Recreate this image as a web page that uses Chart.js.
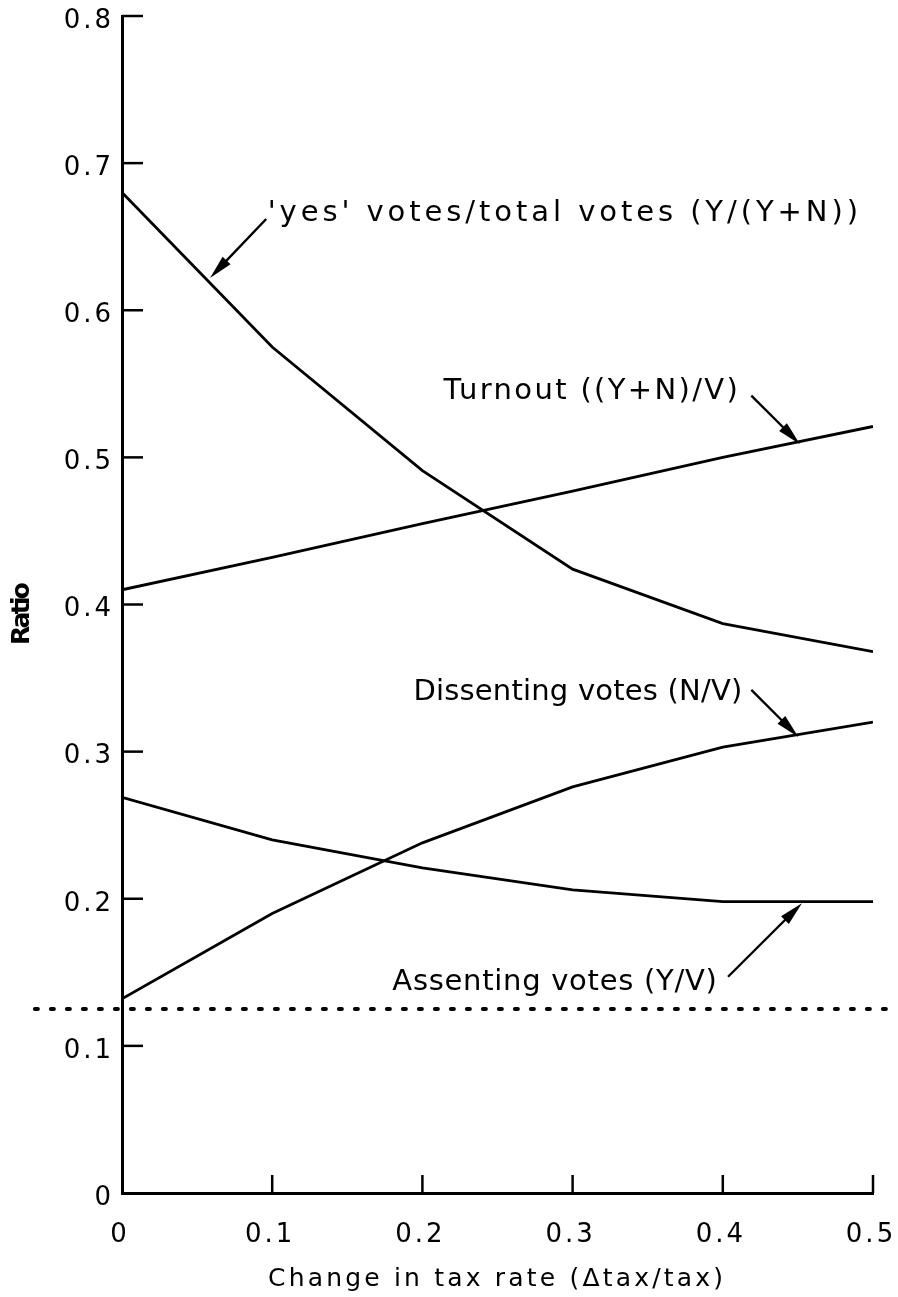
<!DOCTYPE html>
<html>
<head>
<meta charset="utf-8">
<script src="https://cdn.jsdelivr.net/npm/chart.js@4.4.1/dist/chart.umd.min.js"></script>
<style>
    html, body { margin: 0; padding: 0; background: #ffffff; }
</style>
</head>
<body>
<canvas id="ratioChart" width="898" height="1297"></canvas>
<script>
// ------------------------------------------------ DATA ------------------------------------------------
const taxChange  = [0, 0.1, 0.2, 0.3, 0.4, 0.5];
const yesShare   = [0.680, 0.575, 0.491, 0.424, 0.387, 0.368];   // Y/(Y+N)
const turnout    = [0.410, 0.432, 0.455, 0.477, 0.500, 0.521];   // (Y+N)/V
const dissenting = [0.132, 0.190, 0.238, 0.276, 0.303, 0.320];   // N/V
const assenting  = [0.269, 0.240, 0.221, 0.206, 0.198, 0.198];   // Y/V

// dotted rule that runs across the printed page
const ruleX = [-0.058, 0.517];
const ruleY = [0.125, 0.125];

const xTickValues = [0, 0.1, 0.2, 0.3, 0.4, 0.5];
const yTickValues = [0, 0.1, 0.2, 0.3, 0.4, 0.5, 0.6, 0.7, 0.8];

const xTitle = 'Change in tax rate (\u0394tax/tax)';
const yTitle = 'Ratio';

// curve labels, placed in data units
const labels = [
    { text: "'yes' votes/total votes (Y/(Y+N))", x0: 0.097, x1: 0.490, y: 0.661, tail: [0.096, 0.662], tip: [0.0586, 0.622] },
    { text: 'Turnout ((Y+N)/V)',                 x0: 0.214, x1: 0.410, y: 0.540, tail: [0.419, 0.542], tip: [0.4514, 0.509] },
    { text: 'Dissenting votes (N/V)',            x0: 0.194, x1: 0.413, y: 0.335, tail: [0.419, 0.342], tip: [0.4503, 0.310] },
    { text: 'Assenting votes (Y/V)',             x0: 0.180, x1: 0.396, y: 0.138, tail: [0.4035, 0.147], tip: [0.4527, 0.197] }
];

const FONT = '"DejaVu Sans", sans-serif';

function series(xs, ys) {
    return xs.map((x, i) => ({ x: x, y: ys[i] }));
}

function fitText(ctx, text, x, y, width) {
    ctx.letterSpacing = '0px';
    const w = ctx.measureText(text).width;
    ctx.letterSpacing = ((width - w) / (text.length - 1)) + 'px';
    ctx.fillText(text, x, y);
    ctx.letterSpacing = '0px';
}

function arrow(ctx, x1, y1, x2, y2) {
    const a = Math.atan2(y2 - y1, x2 - x1);
    const len = 24, half = 5.5;
    const bx = x2 - Math.cos(a) * len, by = y2 - Math.sin(a) * len;
    ctx.beginPath();
    ctx.moveTo(x1, y1);
    ctx.lineTo(bx + Math.cos(a) * 4, by + Math.sin(a) * 4);
    ctx.stroke();
    ctx.beginPath();
    ctx.moveTo(x2, y2);
    ctx.lineTo(bx + Math.sin(a) * half, by - Math.cos(a) * half);
    ctx.lineTo(bx - Math.sin(a) * half, by + Math.cos(a) * half);
    ctx.closePath();
    ctx.fill();
}

// inward tick marks, axis titles and curve labels
const figureDecor = {
    id: 'figureDecor',
    beforeDraw(chart) {
        chart.ctx.letterSpacing = '3px';
    },
    afterDraw(chart) {
        const ctx = chart.ctx;
        const xs = chart.scales.x, ys = chart.scales.y;
        const area = chart.chartArea;
        ctx.save();
        ctx.letterSpacing = '0px';
        ctx.strokeStyle = '#000';
        ctx.fillStyle = '#000';
        ctx.lineWidth = 2.5;
        ctx.lineCap = 'butt';

        ys.ticks.forEach(t => {
            if (t.value === 0) return;
            const py = ys.getPixelForValue(t.value);
            ctx.beginPath();
            ctx.moveTo(area.left, py);
            ctx.lineTo(area.left + 21, py);
            ctx.stroke();
        });
        xs.ticks.forEach(t => {
            if (t.value === 0) return;
            const px = xs.getPixelForValue(t.value);
            ctx.beginPath();
            ctx.moveTo(px, area.bottom);
            ctx.lineTo(px, area.bottom - 18);
            ctx.stroke();
        });

        // x title
        ctx.font = '25px ' + FONT;
        ctx.textAlign = 'left';
        ctx.textBaseline = 'alphabetic';
        fitText(ctx, xTitle, area.left + 146, area.bottom + 93, 455);

        // y title
        ctx.save();
        ctx.translate(area.left - 100, (area.top + area.bottom) / 2 + 9);
        ctx.rotate(-Math.PI / 2);
        ctx.font = 'bold 25px ' + FONT;
        ctx.textBaseline = 'middle';
        fitText(ctx, yTitle, -31.5, 0, 63);
        ctx.restore();

        // curve labels with arrows
        ctx.font = '29px ' + FONT;
        ctx.lineWidth = 2.4;
        labels.forEach(l => {
            const x0 = xs.getPixelForValue(l.x0), x1 = xs.getPixelForValue(l.x1);
            fitText(ctx, l.text, x0, ys.getPixelForValue(l.y), x1 - x0);
            arrow(ctx,
                xs.getPixelForValue(l.tail[0]), ys.getPixelForValue(l.tail[1]),
                xs.getPixelForValue(l.tip[0]), ys.getPixelForValue(l.tip[1]));
        });
        ctx.restore();
    }
};

const lineStyle = {
    borderColor: '#000000',
    borderWidth: 2.8,
    pointRadius: 0,
    tension: 0,
    fill: false
};

const ctx = document.getElementById('ratioChart').getContext('2d');
const ratioChart = new Chart(ctx, {
    type: 'line',
    data: {
        datasets: [
            Object.assign({ label: 'Y/(Y+N)', data: series(taxChange, yesShare) }, lineStyle),
            Object.assign({ label: '(Y+N)/V', data: series(taxChange, turnout) }, lineStyle),
            Object.assign({ label: 'N/V', data: series(taxChange, dissenting) }, lineStyle),
            Object.assign({ label: 'Y/V', data: series(taxChange, assenting) }, lineStyle),
            {
                label: 'rule',
                data: series(ruleX, ruleY),
                borderColor: '#000000',
                borderWidth: 4,
                borderDash: [3, 13],
                borderCapStyle: 'round',
                pointRadius: 0,
                fill: false,
                clip: false
            }
        ]
    },
    options: {
        responsive: false,
        animation: false,
        layout: {
            padding: { top: 16, right: 25, left: 0, bottom: 0 }
        },
        scales: {
            x: {
                type: 'linear',
                min: 0,
                max: 0.5,
                afterFit: s => { s.height = 104; s.paddingLeft = 0; s.paddingRight = 0; },
                afterBuildTicks: s => { s.ticks = xTickValues.map(v => ({ value: v })); },
                grid: { display: false },
                border: { display: true, color: '#000', width: 3 },
                ticks: {
                    color: '#000',
                    padding: 19,
                    maxRotation: 0,
                    labelOffset: -2,
                    font: { family: FONT, size: 26 },
                    callback: v => v === 0 ? '0' : v.toFixed(1)
                }
            },
            y: {
                type: 'linear',
                min: 0,
                max: 0.8,
                afterFit: s => { s.width = 122; },
                afterBuildTicks: s => { s.ticks = yTickValues.map(v => ({ value: v })); },
                grid: { display: false },
                border: { display: true, color: '#000', width: 3 },
                ticks: {
                    color: '#000',
                    padding: 0,
                    labelOffset: 5,
                    font: { family: FONT, size: 26 },
                    callback: v => v === 0 ? '0' : v.toFixed(1)
                }
            }
        },
        plugins: {
            legend: { display: false },
            tooltip: { enabled: false }
        }
    },
    plugins: [figureDecor]
});
</script>
</body>
</html>
